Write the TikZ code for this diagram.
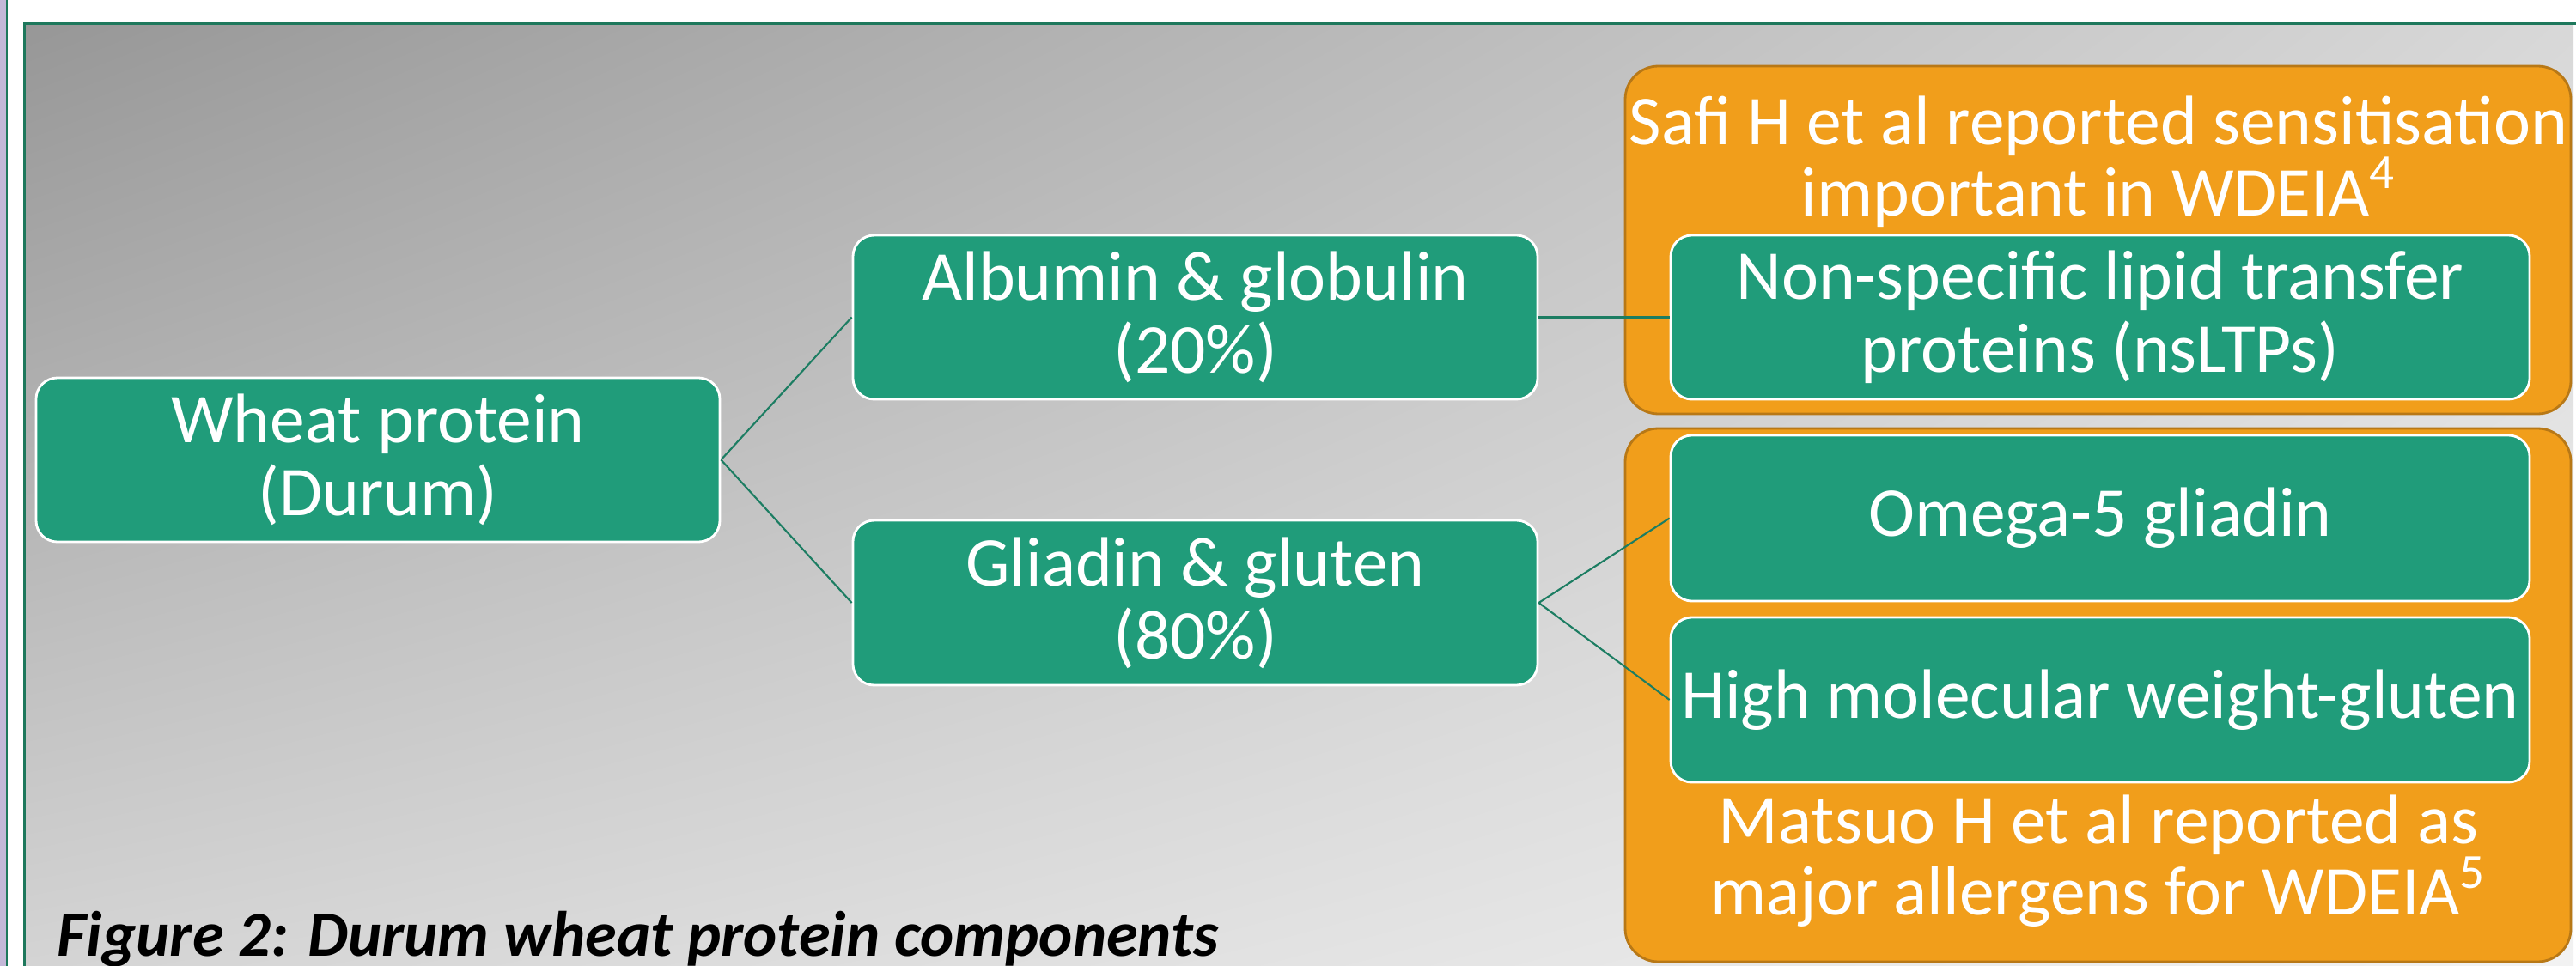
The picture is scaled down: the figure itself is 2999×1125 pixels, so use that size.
\documentclass[tikz,border=0pt]{standalone}
\usepackage{fontspec}
\usetikzlibrary{shadings}
\setmainfont{Carlito}
\definecolor{lav}{RGB}{196,184,216}
\definecolor{pgreen}{RGB}{30,120,92}
\definecolor{boxgreen}{RGB}{32,156,122}
\definecolor{orangefill}{RGB}{241,158,27}
\definecolor{orangedraw}{RGB}{184,120,22}
\definecolor{linkgreen}{RGB}{28,125,98}
\definecolor{gTL}{RGB}{151,151,151}
\definecolor{gTR}{RGB}{216,216,216}
\definecolor{gBL}{RGB}{212,212,212}
\definecolor{gBR}{RGB}{242,242,242}
\tikzset{
  gbox/.style={draw=white, line width=0.8pt, fill=boxgreen, rounded corners=7pt,
    text=white, font=\fontsize{23.2}{24.2}\selectfont, align=center, inner sep=0pt},
  obox/.style={draw=orangedraw, line width=0.8pt, fill=orangefill, rounded corners=11pt, inner sep=0pt},
  otext/.style={text=white, font=\fontsize{23.2}{23.6}\selectfont, align=center, inner sep=0pt},
  link/.style={draw=linkgreen, line width=0.6pt}
}
\begin{document}
\begin{tikzpicture}[x=0.1mm,y=-0.1mm]
\useasboundingbox (0,0) rectangle (2999,1125);
\fill[white] (0,0) rectangle (2999,1125);
\fill[lav] (0,0) rectangle (7,1125);
\fill[pgreen] (7,0) rectangle (9,1125);
\shade[upper left=gTL, upper right=gTR, lower left=gBL, lower right=gBR] (29,28) rectangle (2996,1125);
\draw[pgreen, line width=0.85pt] (28.5,1125) -- (28.5,27.5) -- (2999,27.5);

% orange containers
\node[obox, minimum width=110.1mm, minimum height=40.5mm] (o1) at (2442.5,279.5) {};
\node[obox, minimum width=110.1mm, minimum height=62.1mm] (o2) at (2442.5,809.5) {};
\node[otext] (safi) at (2443,188) {Safi H et al reported sensitisation\\important in WDEIA\textsuperscript{4}};
\node[otext] (matsuo) at (2443,1003) {Matsuo H et al reported as\\major allergens for WDEIA\textsuperscript{5}};

% green boxes
\node[gbox, minimum width=79.6mm, minimum height=19.1mm] (wheat) at (440,535.5) {Wheat protein\\(Durum)};
\node[gbox, minimum width=79.7mm, minimum height=19.1mm] (alb) at (1391.5,369.5) {Albumin \& globulin\\(20\%)};
\node[gbox, minimum width=79.7mm, minimum height=19.2mm] (gli) at (1391.5,702) {Gliadin \& gluten\\(80\%)};
\node[gbox, minimum width=100mm, minimum height=19.1mm] (ltp) at (2445,369.5) {Non-specific lipid transfer\\proteins (nsLTPs)};
\node[gbox, minimum width=100mm, minimum height=19.3mm] (omega) at (2445,603.5) {Omega-5 gliadin};
\node[gbox, minimum width=100mm, minimum height=19.2mm] (hmw) at (2445,815) {High molecular weight-gluten};

% connectors
\draw[link] (wheat.east) -- (alb.west);
\draw[link] (wheat.east) -- (gli.west);
\draw[link] (alb.east) -- (ltp.west);
\draw[link] (gli.east) -- (omega.west);
\draw[link] (gli.east) -- (hmw.west);

% caption
\node[anchor=base west, inner sep=0pt, font=\bfseries\itshape\fontsize{21.2}{22}\selectfont] (cap) at (66,1113) {Figure 2: Durum wheat protein components};
\end{tikzpicture}
\end{document}
